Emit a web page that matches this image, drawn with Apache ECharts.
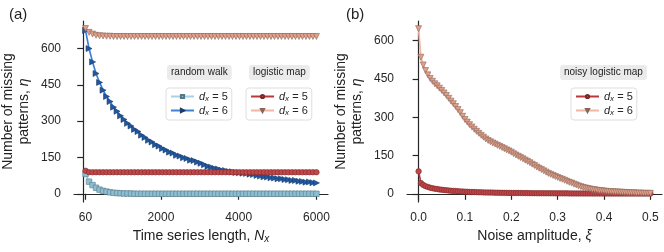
<!DOCTYPE html>
<html><head><meta charset="utf-8">
<script src="https://cdn.jsdelivr.net/npm/echarts@6/dist/echarts.min.js"></script>
<style>html,body{margin:0;padding:0;background:#fff}#c{width:664px;height:252px}</style>
</head><body><div id="c"></div>
<script>
// ---------- Panel (a) data ----------
const timeSeriesLength = [60,150,240,330,420,510,600,690,780,870,960,1050,1140,1230,1320,1410,1500,1590,1680,1770,1860,1950,2040,2130,2220,2310,2400,2490,2580,2670,2760,2850,2940,3030,3120,3210,3300,3390,3480,3570,3660,3750,3840,3930,4020,4110,4200,4290,4380,4470,4560,4650,4740,4830,4920,5010,5100,5190,5280,5370,5460,5550,5640,5730,5820,5910,6000];
const randomWalk5 = [82,50,36,25,17,12,9,6,4,3,2,1,1,1,0,0,0,0,0,0,0,0,0,0,0,0,0,0,0,0,0,0,0,0,0,0,0,0,0,0,0,0,0,0,0,0,0,0,0,0,0,0,0,0,0,0,0,0,0,0,0,0,0,0,0,0,0];
const randomWalk6 = [675,600,545,497,460,428,402,381,358,341,322,307,291,280,266,257,242,233,221,214,203,197,187,181,172,168,159,156,149,146,139,137,131,126,120,113,110,104,102,97,96,92,91,88,87,85,84,81,80,76,73,70,69,66,65,62,62,59,58,55,55,52,51,48,49,46,45];
const logisticMap5 = [95,89,89,89,89,89,89,89,89,89,89,89,89,89,89,89,89,89,89,89,89,89,89,89,89,89,89,89,89,89,89,89,89,89,89,89,89,89,89,89,89,89,89,89,89,89,89,89,89,89,89,89,89,89,89,89,89,89,89,89,89,89,89,89,89,89,89];
const logisticMap6 = [683,667,660,655,653,652,651,651,650,650,650,650,650,650,650,650,650,650,650,650,650,650,650,650,650,650,650,650,650,650,650,650,650,650,650,650,650,650,650,650,650,650,650,650,650,650,650,650,650,650,650,650,650,650,650,650,650,650,650,650,650,650,650,650,650,650,650];
// ---------- Panel (b) data ----------
const noiseAmplitude = [0,0.005,0.01,0.015,0.02,0.025,0.03,0.035,0.04,0.045,0.05,0.055,0.06,0.065,0.07,0.075,0.08,0.085,0.09,0.095,0.1,0.105,0.11,0.115,0.12,0.125,0.13,0.135,0.14,0.145,0.15,0.155,0.16,0.165,0.17,0.175,0.18,0.185,0.19,0.195,0.2,0.205,0.21,0.215,0.22,0.225,0.23,0.235,0.24,0.245,0.25,0.255,0.26,0.265,0.27,0.275,0.28,0.285,0.29,0.295,0.3,0.305,0.31,0.315,0.32,0.325,0.33,0.335,0.34,0.345,0.35,0.355,0.36,0.365,0.37,0.375,0.38,0.385,0.39,0.395,0.4,0.405,0.41,0.415,0.42,0.425,0.43,0.435,0.44,0.445,0.45,0.455,0.46,0.465,0.47,0.475,0.48,0.485,0.49,0.495,0.5];
const noisyLogistic5 = [88,42,35,30,27,24,22,20,19,17,16,15,14,13,12,11.5,11,10,9.5,9,8.5,8,7.5,7,7,6.5,6,6,5.5,5.5,5,5,4.8,4.6,4.4,4.2,4,3.8,3.7,3.6,3.5,3.4,3.3,3.2,3.1,3,2.9,2.8,2.7,2.6,2.5,2.4,2.3,2.3,2.2,2.2,2.1,2.1,2,2,2,1.9,1.9,1.8,1.8,1.7,1.7,1.6,1.6,1.5,1.5,1.5,1.4,1.4,1.4,1.3,1.3,1.3,1.2,1.2,1.2,1.2,1.1,1.1,1.1,1.1,1,1,1,1,1,1,1,1,1,1,1,1,1,1,1];
const noisyLogistic6 = [647,535,505,483,466,452,441,431,423,414,405,395,385,374,363,353,342,330,318,304,291,281,271,262,253,245,237,229,222,215,209,204,199,195,190,186,181,177,172,168,163,157,152,147,142,137,132,127,122,116,111,105,100,95,90,85,80,76,72,68,64,60,57,53,49,45,42,38,35,31,28,25,23,21,19,17,16,14,13,12,11,10,9,8.5,8,7.5,7,6.5,6,5.5,5,4.5,4,4,3,3,3,2,2,2,2];
// ---------- Tick labels ----------
const xTicksA = [60,2000,4000,6000];
const yTicks = [0,150,300,450,600];
const xTicksB = [0,0.1,0.2,0.3,0.4,0.5];

const FONT = 'Liberation Sans, Arial, Helvetica, sans-serif';
const INK = '#262626';
const zip = (xs, ys) => xs.map((x, i) => [x, ys[i]]);
const dxOf = {rw5:5, rw6:6, lm5:5, lm6:6, nl5:5, nl6:6};

const sty = {
  rw5: {line:'#a9d2df', fill:'#8dbfd2', edge:'#56798a', symbol:'rect', size:5.5, rot:0},
  rw6: {line:'#3d80d8', fill:'#1e58a4', edge:'#1d3c66', symbol:'triangle', size:6, rot:-90},
  lm5: {line:'#b8393b', fill:'#c2474a', edge:'#7a2828', symbol:'circle', size:5.5, rot:0},
  lm6: {line:'#efb7a5', fill:'#e39f88', edge:'#8a665a', symbol:'triangle', size:6, rot:180}
};
function mkSeries(name, key, data, ax) {
  const s = sty[key];
  return {
    name, type:'line', data, xAxisIndex:ax, yAxisIndex:ax,
    symbol:s.symbol, symbolSize:s.size, symbolRotate:s.rot, showAllSymbol:true,
    lineStyle:{color:s.line, width:1.7},
    itemStyle:{color:s.fill, borderColor:s.edge, borderWidth:0.6},
    emphasis:{disabled:true}, animation:false
  };
}
const richLegend = {
  i:{fontStyle:'italic', fontSize:11, color:INK, fontFamily:FONT},
  s:{fontStyle:'italic', fontSize:8, color:INK, fontFamily:FONT, padding:[5,0,0,0]},
  t:{fontSize:11, color:INK, fontFamily:FONT}
};
function mkLegend(names, left, top) {
  return {
    data:names, orient:'vertical', left, top,
    itemWidth:23, itemHeight:4, itemGap:2,
    padding:[3,4,3,4], borderColor:'#dedede', borderWidth:1, borderRadius:3,
    backgroundColor:'#fff', selectedMode:false,
    formatter: n => '{i|d}{s|x}{t| = ' + dxOf[n] + '}',
    textStyle:{fontSize:11, color:INK, fontFamily:FONT, rich:richLegend}
  };
}
function boxTitle(text, left, top) {
  return {text, left, top, backgroundColor:'#ebebeb', borderRadius:3, padding:[2,4,2,4],
    textStyle:{fontSize:10, fontWeight:'normal', color:'#222', fontFamily:FONT, lineHeight:11}};
}
const nameRich = {
  n:{fontSize:14, color:'#222', fontFamily:FONT, lineHeight:16},
  e:{fontSize:14, color:'#222', fontFamily:FONT, fontStyle:'italic', lineHeight:16},
  s:{fontSize:10, color:'#222', fontFamily:FONT, fontStyle:'italic', padding:[7,0,0,0]}
};
function xAx(gi, min, max, ticks, name, fmt) {
  return {
    type:'value', gridIndex:gi, min, max,
    axisLine:{show:true, lineStyle:{color:INK, width:1.2}},
    axisTick:{show:true, length:6, customValues:ticks, lineStyle:{color:INK, width:1.2}},
    axisLabel:{customValues:ticks, margin:10, fontSize:12, color:INK, fontFamily:FONT, formatter:fmt},
    splitLine:{show:false},
    name, nameLocation:'middle', nameGap:25,
    nameTextStyle:{fontSize:14, color:'#222', fontFamily:FONT, rich:nameRich}
  };
}
function yAx(gi, min, max) {
  return {
    type:'value', gridIndex:gi, min, max,
    axisLine:{show:true, lineStyle:{color:INK, width:1.2}},
    axisTick:{show:true, length:6, customValues:yTicks, lineStyle:{color:INK, width:1.2}},
    axisLabel:{customValues:yTicks, margin:13, fontSize:12, color:INK, fontFamily:FONT},
    splitLine:{show:false},
    name:'{n|Number of missing}\n{n|patterns, }{e|η}', nameLocation:'middle', nameGap:42, nameRotate:90,
    nameTextStyle:{fontSize:14, color:'#222', fontFamily:FONT, rich:nameRich}
  };
}

const chart = echarts.init(document.getElementById('c'), null, {renderer:'canvas'});
chart.setOption({
  animation:false,
  textStyle:{fontFamily:FONT},
  title:[
    {text:'(a)', left:4, top:2, textStyle:{fontSize:15, fontWeight:'normal', color:'#222', fontFamily:FONT}},
    {text:'(b)', left:341, top:2, textStyle:{fontSize:15, fontWeight:'normal', color:'#222', fontFamily:FONT}},
    boxTitle('random walk', 167, 65),
    boxTitle('logistic map', 249, 65),
    boxTitle('noisy logistic map', 560, 65)
  ],
  legend:[
    mkLegend(['rw5','rw6'], 166, 88),
    mkLegend(['lm5','lm6'], 246, 88),
    mkLegend(['nl5','nl6'], 571, 88)
  ],
  grid:[
    {left:74, top:21, width:254, height:181, outerBoundsMode:'none'},
    {left:407, top:21, width:255, height:181, outerBoundsMode:'none'}
  ],
  xAxis:[
    xAx(0, -237, 6297, xTicksA, '{n|Time series length, }{e|N}{s|x}', v => String(v)),
    xAx(1, -0.025, 0.525, xTicksB, '{n|Noise amplitude, }{e|ξ}', v => v.toFixed(1))
  ],
  yAxis:[ yAx(0, -34, 714), yAx(1, -32, 677) ],
  series:[
    mkSeries('rw5','rw5', zip(timeSeriesLength, randomWalk5), 0),
    mkSeries('rw6','rw6', zip(timeSeriesLength, randomWalk6), 0),
    mkSeries('lm5','lm5', zip(timeSeriesLength, logisticMap5), 0),
    mkSeries('lm6','lm6', zip(timeSeriesLength, logisticMap6), 0),
    mkSeries('nl5','lm5', zip(noiseAmplitude, noisyLogistic5), 1),
    mkSeries('nl6','lm6', zip(noiseAmplitude, noisyLogistic6), 1)
  ]
});
</script></body></html>
